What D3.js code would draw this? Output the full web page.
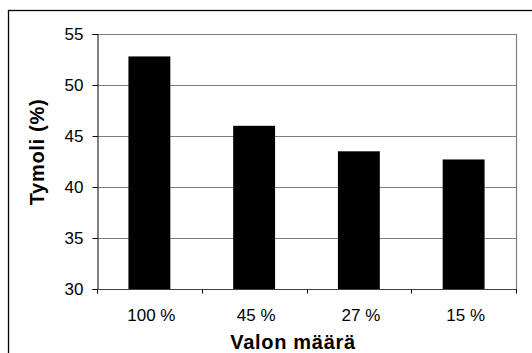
<!DOCTYPE html>
<html>
<head>
<meta charset="utf-8">
<script src="https://cdn.jsdelivr.net/npm/d3@7"></script>
<style>
  html, body { margin: 0; padding: 0; background: #fff; }
  svg { display: block; font-family: "Liberation Sans", Arial, sans-serif; }
</style>
</head>
<body>
<svg id="chart" width="532" height="353"></svg>
<script>
// Light level categories and measured thymol share
const categories = ["100 %", "45 %", "27 %", "15 %"];
const values = [52.8, 46.0, 43.5, 42.7];
const yTicks = [30, 35, 40, 45, 50, 55];
const xTitle = "Valon määrä";
const yTitle = "Tymoli (%)";

const svg = d3.select("#chart");
const plot = { left: 97, right: 516, top: 34, bottom: 289 };

// Outer chart frame (only top and left edges fall inside the view)
svg.append("rect")
  .attr("x", 8.5).attr("y", 10.5)
  .attr("width", 600).attr("height", 400)
  .attr("fill", "none").attr("stroke", "#000").attr("stroke-width", 1.3);

const x = d3.scaleBand().domain(categories)
  .range([plot.left, plot.right]).paddingInner(0.6).paddingOuter(0.3);
const y = d3.scaleLinear().domain([30, 55]).range([plot.bottom, plot.top]);

// Horizontal gridlines
svg.append("g").selectAll("line").data(yTicks.slice(1)).join("line")
  .attr("x1", plot.left).attr("x2", plot.right)
  .attr("y1", d => Math.round(y(d)) + 0.5).attr("y2", d => Math.round(y(d)) + 0.5)
  .attr("stroke", "#7f7f7f").attr("stroke-width", 1);

// Right edge of the plot area
svg.append("line")
  .attr("x1", plot.right + 0.5).attr("x2", plot.right + 0.5)
  .attr("y1", plot.top).attr("y2", plot.bottom)
  .attr("stroke", "#7f7f7f").attr("stroke-width", 1.2);

// Bars
svg.append("g").selectAll("rect").data(values).join("rect")
  .attr("x", (d, i) => x(categories[i]))
  .attr("width", x.bandwidth())
  .attr("y", d => y(d))
  .attr("height", d => y(30) - y(d))
  .attr("fill", "#000");

// Y axis
const yAxis = svg.append("g")
  .attr("transform", `translate(${plot.left + 0.5},0)`)
  .call(d3.axisLeft(y).tickValues(yTicks).tickSize(5).tickPadding(9).tickFormat(d3.format("d")));
yAxis.select(".domain").attr("stroke", "#000");
yAxis.selectAll(".tick line").attr("stroke", "#000");
yAxis.selectAll("text").attr("font-size", 17).attr("fill", "#000")
  .attr("font-family", "Liberation Sans, Arial, sans-serif");

// X axis: tick marks sit between categories
const xAxisG = svg.append("g")
  .attr("transform", `translate(0,${plot.bottom + 0.5})`);
xAxisG.append("line")
  .attr("x1", plot.left).attr("x2", plot.right + 1)
  .attr("stroke", "#404040").attr("stroke-width", 1);
const step = x.step();
const boundaries = d3.range(categories.length + 1).map(i => plot.left + i * (plot.right - plot.left) / categories.length);
xAxisG.selectAll("line.tk").data(boundaries).join("line").attr("class", "tk")
  .attr("x1", d => Math.round(d) + 0.5).attr("x2", d => Math.round(d) + 0.5)
  .attr("y1", 0).attr("y2", 4).attr("stroke", "#000");
xAxisG.selectAll("text").data(categories).join("text")
  .attr("x", d => x(d) + x.bandwidth() / 2 + 2)
  .attr("y", 31)
  .attr("text-anchor", "middle")
  .attr("font-size", 17)
  .text(d => d);

// Axis titles
svg.append("text")
  .attr("x", 293).attr("y", 349)
  .attr("text-anchor", "middle")
  .attr("font-size", 20).attr("font-weight", "bold")
  .attr("letter-spacing", 0.7)
  .text(xTitle);

svg.append("text")
  .attr("transform", "translate(44,152) rotate(-90)")
  .attr("text-anchor", "middle")
  .attr("font-size", 20).attr("font-weight", "bold")
  .attr("letter-spacing", 0.7)
  .text(yTitle);
</script>
</body>
</html>
